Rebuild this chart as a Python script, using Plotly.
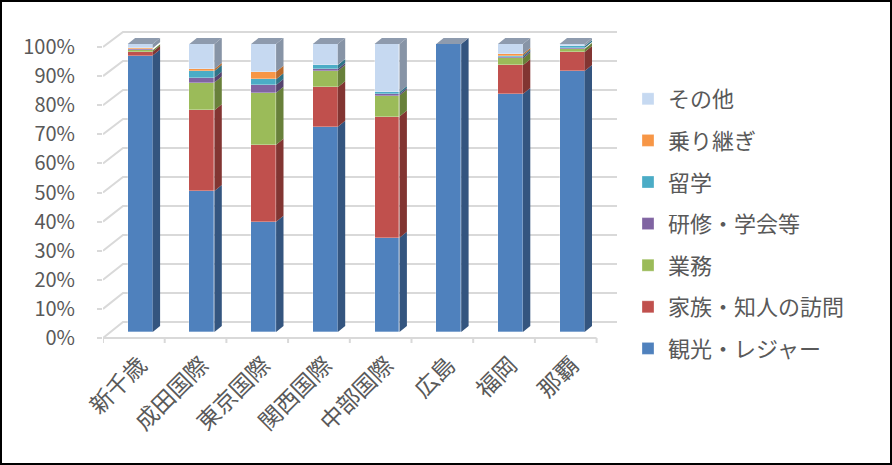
import plotly.graph_objects as go

categories = ["新千歳", "成田国際", "東京国際", "関西国際", "中部国際", "広島", "福岡", "那覇"]
series_names = ["観光・レジャー", "家族・知人の訪問", "業務", "研修・学会等", "留学", "乗り継ぎ", "その他"]

kanko   = [96.0, 49.0, 38.3, 71.3, 32.7, 100.0, 82.6, 90.6]
kazoku  = [1.3, 28.0, 26.7, 13.7, 42.1, 0.0, 10.0, 6.6]
gyomu   = [0.5, 9.6, 18.1, 5.6, 7.3, 0.0, 2.4, 1.1]
kenshu  = [0.3, 1.7, 2.7, 0.7, 0.5, 0.0, 0.5, 0.3]
ryugaku = [0.2, 2.3, 2.0, 1.4, 0.7, 0.0, 0.5, 0.6]
noritsugi = [0.2, 0.7, 2.6, 0.1, 0.0, 0.0, 0.5, 0.1]
sonota  = [1.5, 8.7, 9.6, 7.2, 16.7, 0.0, 3.5, 0.7]

series_values = [kanko, kazoku, gyomu, kenshu, ryugaku, noritsugi, sonota]
front_colors = ["#4F81BD", "#C0504D", "#9BBB59", "#8064A2", "#4BACC6", "#F79646", "#C6D9F1"]
side_colors = ["#34557F", "#823532", "#68803A", "#56436E", "#307488", "#B86A2C", "#8794A6"]
top_color = "#8E9BAE"

y_ticks = [0, 10, 20, 30, 40, 50, 60, 70, 80, 90, 100]
y_ticktext = [f"{v}%" for v in y_ticks]

FONT = "Noto Sans CJK JP"
GRAY = "#595959"
LINE = "#D9D9D9"

# pixel geometry helpers
L, R, T, B = 103, 617, 20, 338
W_PX = 892
H_PX = 465
cat_px = 61.7
x0_px = 140.2
xr_lo = -(x0_px - L) / cat_px
xr_hi = xr_lo + (R - L) / cat_px
WALL_X = 123          # where the back wall starts
LABEL_0, LABEL_100 = B, 47
GRID_0, GRID_100 = 322, 32
BAR_0, BAR_100 = 332, 44

bar_w = 0.405
dx = 0.12
dy = 2.08

x_idx = list(range(len(categories)))

def px_x(p):
    return (p - L) / (R - L)

def px_y(p):
    return (B - p) / (B - T)

def rng(zero_px, hundred_px):
    ppu = (zero_px - hundred_px) / 100.0
    return [-(B - zero_px) / ppu, (zero_px - T) / ppu]

fig = go.Figure()

# back-wall gridlines + left-wall diagonals, drawn on the base axis (y) beneath the bars
grid_ppu = (GRID_0 - GRID_100) / 100.0
wall_x = xr_lo + (WALL_X - L) / cat_px
gx, gy = [], []
for v in y_ticks:
    ly_px = LABEL_0 - v * (LABEL_0 - LABEL_100) / 100.0
    ly = (GRID_0 - ly_px) / grid_ppu
    gx += [xr_lo, wall_x, xr_hi, None]
    gy += [ly, v, v, None]
fig.add_trace(go.Scatter(x=gx, y=gy, mode="lines", yaxis="y", showlegend=False,
                         line=dict(color=LINE, width=2), hoverinfo="skip", cliponaxis=False))
# dummy trace so that the label axis (y2) is drawn
fig.add_trace(go.Scatter(x=[None], y=[None], yaxis="y2", showlegend=False, hoverinfo="skip"))

# front faces
for i, (name, vals, col) in enumerate(zip(series_names, series_values, front_colors)):
    fig.add_trace(go.Bar(
        x=x_idx, y=vals, name=name, width=bar_w,
        marker=dict(color=col, line=dict(width=0.6, color="rgba(255,255,255,0.5)")),
        yaxis="y3", legendgroup=name, legendrank=100 - i, hoverinfo="skip",
    ))

# side faces (derived from data)
base = [0.0] * len(categories)
for name, vals, col in zip(series_names, series_values, side_colors):
    xs, ys = [], []
    for j, v in enumerate(vals):
        b = base[j]
        t = b + v
        if v > 0:
            xr = j + bar_w / 2
            xs += [xr, xr + dx, xr + dx, xr, xr, None]
            ys += [b, b + dy, t + dy, t, b, None]
        base[j] = t
    fig.add_trace(go.Scatter(
        x=xs, y=ys, mode="lines", fill="toself", fillcolor=col,
        line=dict(width=0, color=col), yaxis="y3", showlegend=False,
        hoverinfo="skip",
    ))

# top faces
xs, ys = [], []
for j in x_idx:
    t = base[j]
    xl = j - bar_w / 2
    xr = j + bar_w / 2
    xs += [xl, xl + dx, xr + dx, xr, xl, None]
    ys += [t, t + dy, t + dy, t, t, None]
fig.add_trace(go.Scatter(
    x=xs, y=ys, mode="lines", fill="toself", fillcolor=top_color,
    line=dict(width=0, color=top_color), yaxis="y3", showlegend=False, hoverinfo="skip",
))

# x-axis line and boundary ticks
fig.add_shape(type="line", xref="x", yref="paper", x0=xr_lo, x1=xr_lo + 8, y0=0, y1=0,
              line=dict(color=LINE, width=2))
for k in range(9):
    xv = xr_lo + k
    fig.add_shape(type="line", xref="x", yref="paper", x0=xv, x1=xv, y0=0, y1=-5 / (B - T),
                  line=dict(color=LINE, width=2))

# outer border
fig.add_shape(type="rect", xref="paper", yref="paper",
              x0=px_x(1), x1=px_x(W_PX - 1),
              y0=px_y(H_PX - 1), y1=px_y(1),
              line=dict(color="black", width=2), layer="above")

fig.update_layout(
    width=W_PX, height=H_PX,
    margin=dict(l=L, r=W_PX - R, t=T, b=H_PX - B, autoexpand=False),
    paper_bgcolor="white", plot_bgcolor="white",
    barmode="stack", bargap=0,
    font=dict(family=FONT, color=GRAY, size=20),
    showlegend=True,
    legend=dict(
        x=px_x(628), xanchor="left",
        y=px_y(78), yanchor="top",
        traceorder="grouped", tracegroupgap=10,
        font=dict(family=FONT, size=22, color=GRAY),
        bgcolor="rgba(0,0,0,0)",
    ),
    xaxis=dict(
        range=[xr_lo, xr_hi], tickvals=x_idx, ticktext=categories, automargin=False,
        tickangle=-45, ticks="", showline=False, showgrid=False, zeroline=False,
        tickfont=dict(family=FONT, size=23, color=GRAY), ticklabelstandoff=8,
    ),
    yaxis=dict(
        range=rng(GRID_0, GRID_100), showticklabels=False, automargin=False,
        showgrid=False, zeroline=False, showline=False, ticks="",
    ),
    yaxis2=dict(
        range=rng(LABEL_0, LABEL_100), overlaying="y", side="left",
        tickvals=y_ticks, ticktext=y_ticktext, automargin=False,
        ticks="outside", ticklen=5, tickcolor=LINE, tickwidth=1.5,
        showgrid=False, zeroline=False, showline=False,
        tickfont=dict(family=FONT, size=20, color=GRAY), ticklabelstandoff=18,
    ),
    yaxis3=dict(
        range=rng(BAR_0, BAR_100), overlaying="y", showticklabels=False, showgrid=False,
        automargin=False, zeroline=False, showline=False, ticks="",
    ),
)

fig.write_html(
    "out.html",
    config={"displayModeBar": False},
    post_script="document.body.style.margin='0';document.body.style.overflow='hidden';",
)
